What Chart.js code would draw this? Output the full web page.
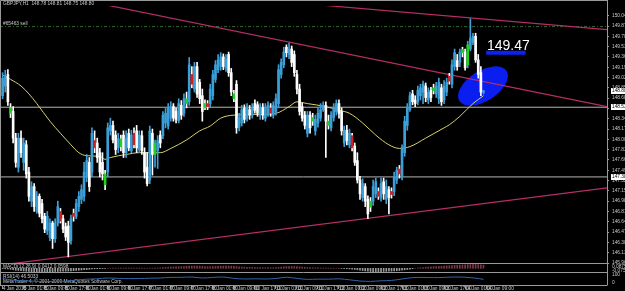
<!DOCTYPE html>
<html><head><meta charset="utf-8">
<script src="https://cdn.jsdelivr.net/npm/chart.js@4.4.1/dist/chart.umd.min.js"></script>
<style>
html,body{margin:0;padding:0;background:#000;}
#wrap{position:relative;width:625px;height:291px;background:#000;overflow:hidden;}
canvas{position:absolute;left:0;}
</style></head><body>
<div id="wrap">
<canvas id="main" width="625" height="291" style="top:0"></canvas>
<canvas id="macd" width="625" height="8" style="top:264px"></canvas>
<canvas id="rsi" width="625" height="19" style="top:272px"></canvas>
</div>
<script>
// ---------- DATA (GBPJPY, H1) ----------
const opens = [148.72,148.88,149.07,148.52,148.46,148.02,147.54,148.02,147.62,147.91,
147.46,146.98,147.22,146.81,147.06,146.94,146.73,146.49,146.38,146.62,
146.36,146.62,146.81,146.69,146.56,146.57,146.33,146.78,146.73,146.89,
147.01,147.06,147.38,147.62,147.46,147.98,147.94,147.78,147.62,147.43,
147.46,148.14,148.23,148.07,147.86,148.01,148.07,147.78,148.10,147.81,
148.10,148.14,147.83,148.06,147.78,147.54,147.33,148.10,147.75,147.81,
148.07,148.06,148.27,148.22,148.35,148.54,148.46,148.31,148.56,148.43,
148.67,148.62,149.07,148.83,149.20,148.94,148.72,148.59,148.59,148.59,
148.72,148.99,149.15,149.20,149.36,149.17,149.40,149.10,148.75,148.91,
148.20,148.27,148.51,148.35,148.49,148.40,148.59,148.57,148.40,148.52,
148.35,148.43,148.52,148.40,148.46,148.59,149.07,149.23,149.52,149.40,
149.49,149.40,149.07,148.83,148.54,148.40,148.10,148.40,148.36,148.14,
148.27,148.35,148.49,148.56,148.30,148.19,148.36,148.46,148.59,148.46,
147.94,148.15,147.91,148.06,147.89,147.65,147.33,147.04,147.22,147.01,
146.98,146.98,147.10,147.14,147.04,147.30,147.01,147.17,147.14,147.14,
147.33,147.51,147.38,147.78,148.23,148.49,148.75,148.65,148.62,148.72,
148.78,148.88,148.65,148.81,148.85,148.75,148.67,148.85,148.65,148.78,
149.04,148.91,149.20,149.30,149.27,149.48,149.44,149.23,149.49,149.60,
149.70,149.31,149.10,148.78];
const highs = [149.10,149.14,149.15,148.59,148.54,148.10,148.10,148.14,148.02,147.98,
147.54,147.30,147.27,147.14,147.10,147.01,146.78,146.81,146.69,146.65,
146.69,146.98,146.86,146.75,146.62,146.65,146.75,146.85,147.01,147.14,
147.25,147.62,147.75,147.70,148.19,148.14,148.02,147.85,147.78,147.49,
148.27,148.35,148.30,148.14,148.10,148.07,148.14,148.14,148.17,148.15,
148.19,148.23,148.14,148.14,147.86,147.78,148.22,148.17,147.99,148.06,
148.14,148.46,148.51,148.59,148.62,148.59,148.52,148.67,148.64,148.75,
148.78,149.35,149.20,149.27,149.27,148.99,148.83,148.65,148.64,148.91,
149.14,149.30,149.40,149.43,149.41,149.40,149.44,149.17,148.81,148.97,
148.43,148.56,148.57,148.59,148.56,148.59,148.65,148.62,148.59,148.59,
148.59,148.62,148.59,148.62,148.75,149.23,149.33,149.52,149.56,149.59,
149.54,149.46,149.14,148.91,148.60,148.46,148.46,148.46,148.43,148.40,
148.51,148.59,148.62,148.62,148.40,148.46,148.59,148.65,148.65,148.52,
148.22,148.23,148.17,148.10,147.94,147.78,147.39,147.35,147.27,147.07,
147.04,147.33,147.36,147.20,147.36,147.36,147.33,147.22,147.20,147.46,
147.54,147.57,147.91,148.38,148.59,148.78,148.81,148.72,148.88,148.91,
148.96,148.93,148.85,148.86,148.91,148.94,149.01,148.91,148.97,149.01,
149.09,149.31,149.49,149.40,149.49,149.52,149.49,149.62,149.99,149.75,
149.75,149.40,149.20,148.81];
const lows = [148.67,148.78,148.56,148.36,147.94,147.54,147.46,147.70,147.49,147.36,
146.98,146.89,146.81,146.78,146.72,146.62,146.46,146.43,146.33,146.20,
146.30,146.57,146.62,146.46,146.33,146.06,146.27,146.65,146.69,146.81,
146.94,146.98,147.30,147.14,147.38,147.78,147.62,147.38,147.33,147.17,
147.38,148.07,147.94,147.75,147.78,147.81,147.70,147.70,147.81,147.78,
147.86,147.78,147.78,147.75,147.36,147.23,147.27,147.41,147.54,147.52,
147.86,148.01,148.19,148.17,148.30,148.30,148.27,148.27,148.33,148.38,
148.52,148.56,148.85,148.78,148.69,148.59,148.30,148.49,148.49,148.52,
148.65,148.94,149.10,149.14,149.15,149.12,149.04,148.72,148.62,148.10,
148.14,148.22,148.27,148.30,148.33,148.35,148.43,148.38,148.33,148.33,
148.30,148.38,148.38,148.35,148.40,148.52,149.01,149.18,149.36,149.33,
149.20,149.04,148.75,148.40,148.30,148.17,148.04,148.10,148.23,148.07,
148.20,148.30,148.46,147.70,148.17,148.14,148.30,148.40,148.35,148.07,
147.88,147.91,147.86,147.81,147.57,147.28,147.01,146.98,146.89,146.69,
146.81,146.91,147.04,147.01,146.98,147.01,146.94,146.77,147.03,147.07,
147.27,147.36,147.33,147.72,148.15,148.46,148.57,148.54,148.57,148.65,
148.59,148.62,148.59,148.62,148.75,148.69,148.59,148.56,148.59,148.72,
148.91,148.85,149.14,149.14,149.20,149.36,149.14,149.18,149.46,149.56,
149.27,149.01,148.72,148.75];
const closes = [149.01,149.04,148.62,148.43,148.02,147.62,148.02,147.78,147.94,147.43,
147.06,147.22,146.89,147.06,146.78,146.69,146.52,146.73,146.62,146.36,
146.62,146.89,146.65,146.52,146.39,146.30,146.69,146.73,146.94,147.06,
147.17,147.46,147.65,147.22,148.10,147.86,147.70,147.46,147.43,147.25,
148.19,148.23,147.99,147.83,148.01,147.88,147.78,148.02,147.86,148.07,
147.91,147.86,148.07,147.81,147.46,147.27,148.14,147.75,147.94,147.98,
147.94,148.40,148.43,148.51,148.54,148.35,148.33,148.59,148.40,148.67,
148.59,149.23,148.91,149.20,148.75,148.67,148.46,148.52,148.54,148.83,
149.07,149.23,149.31,149.36,149.20,149.33,149.10,148.78,148.67,148.19,
148.36,148.49,148.33,148.52,148.40,148.52,148.48,148.43,148.52,148.40,
148.51,148.56,148.43,148.56,148.67,149.15,149.27,149.44,149.43,149.49,
149.27,149.10,148.83,148.46,148.35,148.23,148.40,148.19,148.30,148.33,
148.43,148.49,148.56,148.30,148.23,148.40,148.52,148.59,148.43,148.14,
148.15,147.98,148.10,147.86,147.62,147.33,147.10,147.27,146.98,146.77,
146.88,147.22,147.30,147.06,147.27,147.10,147.22,147.04,147.09,147.38,
147.49,147.43,147.86,148.30,148.52,148.72,148.62,148.59,148.81,148.85,
148.91,148.69,148.78,148.69,148.80,148.88,148.94,148.62,148.88,148.94,
148.96,149.23,149.43,149.20,149.44,149.43,149.18,149.56,149.67,149.70,
149.31,149.07,148.78,148.80];
// bars highlighted by the chart's colouring indicator
const greenBars = [3,39,45,58,70,77,88,118,124,140,164,175,177];
const redBars = [22,27,35,50,72,78,102,133,143,148,151,170];
// moving average readings (bar index, price)
const maIdx = [0,3,7,10,13,18,22,26,29,32,37,39,41,47,52,60,64,70,75,79,83,88,96,104,109,112,116,123,128,132,137,142,147,151,155,161,168,170,174,179,183];
const maVal = [149.06,148.99,148.88,148.75,148.59,148.30,148.10,147.91,147.78,147.73,147.72,147.67,147.70,147.75,147.78,147.78,147.85,147.99,148.14,148.22,148.35,148.40,148.41,148.43,148.54,148.62,148.59,148.54,148.48,148.43,148.27,148.07,147.91,147.85,147.88,148.02,148.19,148.24,148.38,148.59,148.72];
// drawn objects (bar index, price)
const trendUpper = [[120,150.22],[230,149.81]];
const trendMid = [[30,150.30],[230,148.54]];
const trendLower = [[0,145.93],[230,147.20]];
const hLevels = [148.53, 147.38];
const sellLevel = 149.86;
const targetLine = [[184,149.43],[199,149.43]];
const targetText = "149.47";
const ellipseCenter = [182.8, 148.88];
const lastPrice = 148.80;
// price axis ticks
const yTicks = [150.04,149.87,149.70,149.53,149.36,149.19,149.02,148.85,148.68,148.51,148.34,148.17,148.00,147.83,147.66,147.49,147.32,147.15,146.98,146.81,146.64,146.47,146.30,146.13,145.96];
// time axis labels, one every 8 bars
const timeLabels = ["4 Jan 2010","5 Jan 01:00","5 Jan 09:00","5 Jan 17:00","6 Jan 01:00","6 Jan 09:00","6 Jan 17:00","7 Jan 01:00","7 Jan 09:00","7 Jan 17:00","8 Jan 01:00","8 Jan 09:00","10 Jan 17:00","11 Jan 01:00","11 Jan 09:00","11 Jan 17:00","12 Jan 01:00","12 Jan 09:00","12 Jan 17:00","13 Jan 01:00","13 Jan 09:00","13 Jan 17:00","14 Jan 01:00","14 Jan 09:00"];
// sub-window indicators
const macdHist = [-0.005,-0.01,-0.015,-0.02,-0.03,-0.04,-0.045,-0.05,-0.055,-0.06,
-0.065,-0.07,-0.072,-0.075,-0.075,-0.074,-0.073,-0.072,-0.07,-0.068,
-0.066,-0.064,-0.062,-0.06,-0.058,-0.056,-0.052,-0.048,-0.044,-0.04,
-0.035,-0.03,-0.025,-0.02,-0.014,-0.01,-0.008,-0.006,-0.004,-0.003,
0.0,0.002,0.003,0.004,0.004,0.005,0.005,0.006,0.006,0.006,
0.006,0.006,0.005,0.004,0.003,0.002,0.004,0.005,0.006,0.007,
0.01,0.014,0.018,0.022,0.026,0.028,0.03,0.032,0.034,0.036,
0.04,0.045,0.046,0.047,0.045,0.042,0.038,0.035,0.033,0.032,
0.034,0.037,0.04,0.042,0.044,0.045,0.045,0.043,0.04,0.035,
0.03,0.027,0.025,0.022,0.02,0.018,0.016,0.015,0.014,0.013,
0.013,0.013,0.012,0.013,0.015,0.02,0.025,0.03,0.034,0.037,
0.038,0.037,0.034,0.03,0.025,0.02,0.016,0.013,0.011,0.009,
0.008,0.007,0.005,0.004,0.003,0.002,0.002,0.001,0.0,-0.002,
-0.005,-0.008,-0.012,-0.016,-0.022,-0.03,-0.038,-0.046,-0.054,-0.06,
-0.064,-0.066,-0.067,-0.067,-0.066,-0.064,-0.062,-0.06,-0.057,-0.054,
-0.05,-0.046,-0.04,-0.032,-0.024,-0.016,-0.008,0.0,0.006,0.012,
0.017,0.022,0.026,0.03,0.033,0.036,0.039,0.042,0.045,0.048,
0.052,0.056,0.06,0.063,0.066,0.069,0.072,0.075,0.078,0.08,
0.079,0.076,0.07,0.065];
const rsiIdx = [0,4,8,12,16,20,24,28,32,36,40,44,48,52,56,60,64,68,72,76,80,84,88,92,96,100,104,108,112,116,120,124,128,132,136,140,144,148,152,156,160,164,168,172,176,180,183];
const rsiVal = [55,38,33,28,25,28,27,40,48,52,60,56,54,55,58,60,66,67,70,60,66,70,56,50,52,50,55,68,56,46,49,48,52,42,30,26,32,36,50,64,66,64,66,70,68,58,46.5];

// ---------- STYLE ----------
const X_MIN = -1, X_MAX = 230;
const FONT = 'Liberation Sans, Arial, sans-serif';
const TXT = '#c8c8c8';
const FRAME = '#9a9a9a';
const TREND = '#b62e66';
const idx = opens.map((_, i) => i);
function dirColor(i){ return closes[i] > opens[i] ? '#3d9fd8' : '#ffffff'; }
function bodyColor(i){
  if (greenBars.includes(i)) return '#1ed21e';
  if (redBars.includes(i)) return '#d21e1e';
  return dirColor(i);
}
const pts = a => a.map(p => ({x:p[0], y:p[1]}));
const lineDs = (data, color, width, order, extra) => Object.assign({
  type:'line', data, borderColor:color, borderWidth:width, pointRadius:0, fill:false, order
}, extra || {});

const overlay = {
  id:'overlay',
  beforeDatasetsDraw(chart){
    const {ctx, scales:{x, y}} = chart;
    ctx.save();
    ctx.beginPath();
    ctx.ellipse(x.getPixelForValue(ellipseCenter[0]), y.getPixelForValue(ellipseCenter[1]), 28, 15, -32.5*Math.PI/180, 0, Math.PI*2);
    ctx.fillStyle = '#0a1ef0';
    ctx.fill();
    ctx.restore();
  },
  afterDraw(chart){
    const {ctx, chartArea:a, scales:{x, y}} = chart;
    ctx.save();
    ctx.strokeStyle = FRAME; ctx.lineWidth = 1;
    ctx.beginPath();
    ctx.moveTo(0.5, 0.5); ctx.lineTo(a.right+0.5, 0.5);
    ctx.moveTo(0.5, 0.5); ctx.lineTo(0.5, 285.5);
    ctx.moveTo(a.right+0.5, 0); ctx.lineTo(a.right+0.5, 285.5);
    ctx.moveTo(0, 263.5); ctx.lineTo(a.right, 263.5);
    ctx.moveTo(0, 272.5); ctx.lineTo(a.right, 272.5);
    ctx.moveTo(0, 285.5); ctx.lineTo(a.right, 285.5);
    ctx.stroke();
    ctx.font = '4.8px ' + FONT;
    ctx.textBaseline = 'middle';
    [...hLevels, lastPrice].forEach(v => {
      const py = Math.round(y.getPixelForValue(v));
      ctx.fillStyle = '#ffffff';
      ctx.fillRect(a.right + 4, py - 3, 625 - a.right - 4, 6);
      ctx.fillStyle = '#000000';
      ctx.fillText(v.toFixed(2), a.right + 5, py);
    });
    ctx.fillStyle = TXT;
    ctx.fillText('GBPJPY,H1  148.78 148.81 148.75 148.80', 3, 4);
    ctx.fillText('#65463 sell', 3, y.getPixelForValue(sellLevel) - 3);
    ctx.fillText('MACD(12,26,9) 0.0412 0.0598', 3, 267);
    ctx.fillText('RSI(14) 46.5033', 3, 276.5);
    ctx.fillText('MetaTrader 4, \u00a9 2001-2009 MetaQuotes Software Corp.', 3, 282);
    ctx.fillText('0.0875', a.right + 5, 266.5);
    ctx.fillText('-0.0751', a.right + 5, 270.5);
    ctx.fillText('100', a.right + 5, 275);
    ctx.fillText('0', a.right + 5, 283);
    ctx.font = '14px ' + FONT;
    ctx.textBaseline = 'alphabetic';
    ctx.fillStyle = '#ffffff';
    ctx.fillText(targetText, x.getPixelForValue(184.3), y.getPixelForValue(parseFloat(targetText)));
    ctx.restore();
  }
};

Chart.defaults.font.family = FONT;
new Chart(document.getElementById('main'), {
  type:'bar',
  data:{ datasets:[
    {type:'bar', data: idx.map(i => ({x:i, y:[opens[i], closes[i]]})), barThickness:2, minBarLength:1,
     grouped:false, backgroundColor: c => bodyColor(c.dataIndex), order:0},
    {type:'bar', data: idx.map(i => ({x:i, y:[lows[i], highs[i]]})), barThickness:1,
     grouped:false, backgroundColor: c => dirColor(c.dataIndex), order:1},
    lineDs(maIdx.map((v,k) => ({x:v, y:maVal[k]})), '#d8d070', 1, 2, {cubicInterpolationMode:'monotone'}),
    lineDs(pts(trendUpper), TREND, 1.2, 3),
    lineDs(pts(trendMid), TREND, 1.2, 3),
    lineDs(pts(trendLower), TREND, 1.2, 3),
    ...hLevels.map(v => lineDs([{x:X_MIN,y:v},{x:X_MAX,y:v}], '#b4b4b4', 1, 4)),
    lineDs([{x:X_MIN,y:sellLevel},{x:X_MAX,y:sellLevel}], '#2f6e2f', 1, 5, {borderDash:[3,2,1,2]}),
    lineDs(pts(targetLine), '#0a22f0', 4, 0, {borderCapStyle:'butt'})
  ]},
  options:{
    responsive:false, animation:false, events:[], devicePixelRatio:1,
    layout:{padding:{top:0, bottom:28, left:0, right:0}},
    plugins:{legend:{display:false}, tooltip:{enabled:false}},
    scales:{
      x:{type:'linear', min:X_MIN, max:X_MAX, offset:false, display:false},
      y:{position:'right', min:145.96, max:150.202,
         afterBuildTicks: s => { s.ticks = yTicks.map(v => ({value:v})); },
         afterFit: s => { s.width = 18; },
         ticks:{color:TXT, font:{size:4.8}, padding:3, callback: v => Number(v).toFixed(2)},
         grid:{drawOnChartArea:false, color:FRAME, tickLength:2},
         border:{display:true, color:FRAME}}
    }
  },
  plugins:[overlay]
});

new Chart(document.getElementById('macd'), {
  type:'bar',
  data:{ datasets:[{ data: macdHist.map((v,i) => ({x:i, y:v})), barThickness:1,
    backgroundColor: c => macdHist[c.dataIndex] < 0 ? '#9a9a9a' : '#7a3a46' }]},
  options:{
    responsive:false, animation:false, events:[], devicePixelRatio:1,
    layout:{padding:{top:0, bottom:0, left:0, right:18}},
    plugins:{legend:{display:false}, tooltip:{enabled:false}},
    scales:{
      x:{type:'linear', min:X_MIN, max:X_MAX, offset:false, display:false},
      y:{min:-0.0751, max:0.0875, display:false}
    }
  }
});

new Chart(document.getElementById('rsi'), {
  type:'line',
  data:{ datasets:[{ data: rsiIdx.map((v,k) => ({x:v, y:rsiVal[k]})), borderColor:'#3264aa', borderWidth:1, pointRadius:0, tension:0.3 }]},
  options:{
    responsive:false, animation:false, events:[], devicePixelRatio:1,
    layout:{padding:{top:1, bottom:0, left:0, right:18}},
    plugins:{legend:{display:false}, tooltip:{enabled:false}},
    scales:{
      x:{type:'linear', min:X_MIN, max:X_MAX, offset:false, position:'bottom',
         afterBuildTicks: s => { s.ticks = timeLabels.map((_,k) => ({value:k*8})); },
         afterFit: s => { s.height = 6; },
         ticks:{color:TXT, font:{size:4.8}, align:'start', autoSkip:false, maxRotation:0, padding:-3,
                callback: v => timeLabels[Math.round(v/8)]},
         grid:{drawOnChartArea:false, color:FRAME, tickLength:4},
         border:{display:false}},
      y:{min:-10, max:110, display:false}
    }
  }
});
</script>
</body></html>
